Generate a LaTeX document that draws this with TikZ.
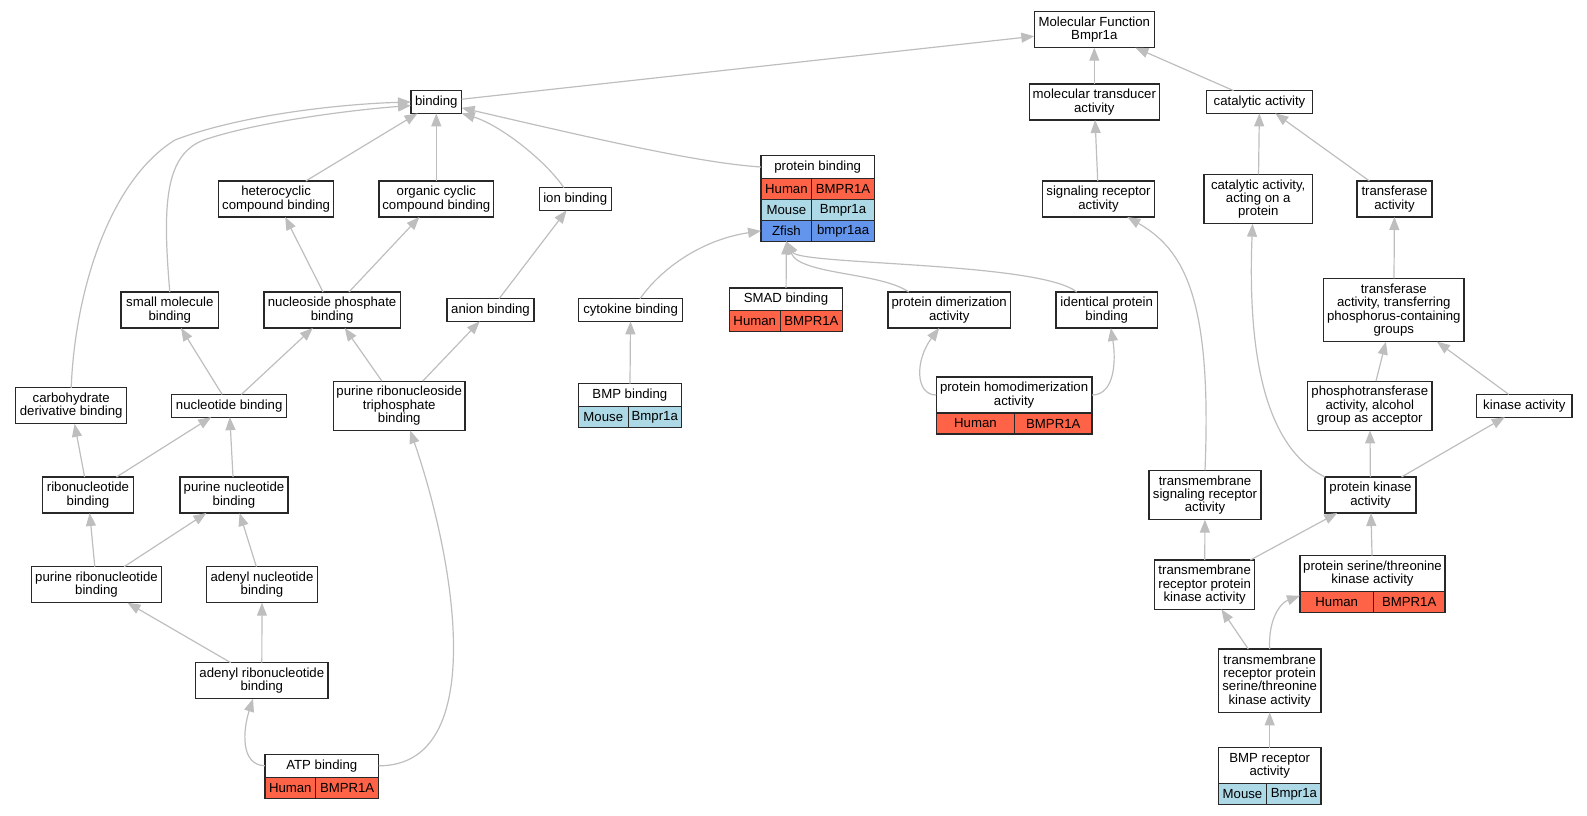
\documentclass[tikz,border=0pt]{standalone}
\usepackage{fontspec}
\newfontfamily\golabel{Liberation Sans}
\usetikzlibrary{arrows.meta,positioning}
\definecolor{humanred}{RGB}{255,99,71}
\definecolor{mouseblue}{RGB}{173,216,230}
\definecolor{fishblue}{RGB}{100,149,237}
\definecolor{isagray}{RGB}{190,190,190}
\definecolor{boxline}{RGB}{40,40,40}

\begin{document}
\begin{tikzpicture}[x=1pt,y=-1pt,
  isa/.style={draw=isagray,line width=1.2pt,-{Triangle[length=13pt,width=10pt]}},
  go node/.style={draw=boxline,line width=1.3pt,fill=white,align=center,inner sep=2pt,outer sep=0pt,
    minimum height=22.7pt,font=\golabel\fontsize{13.2}{13.3}\selectfont},
  two lines/.style={minimum height=36pt},
  three lines/.style={minimum height=49.3pt},
  four lines/.style={minimum height=63.3pt},
  gene cell/.style={go node,minimum height=21pt,inner sep=1pt},
  human/.style={gene cell,fill=humanred},
  mouse/.style={gene cell,fill=mouseblue},
  zfish/.style={gene cell,fill=fishblue}]
  \useasboundingbox (0,0) rectangle (1587,816);

  % top ranks
  \node[go node,two lines,minimum width=120pt] (mf) at (1094.3,29.7) {Molecular Function\\Bmpr1a};
  \node[go node,minimum width=50.7pt] (bind) at (436.3,102) {binding};
  \node[go node,two lines,minimum width=130pt] (transd) at (1094.3,102) {molecular transducer\\activity};
  \node[go node,minimum width=105.7pt] (cat) at (1259.5,102) {catalytic activity};

  \node[go node,minimum width=113.3pt] (pb) at (817.7,167) {protein binding};
  \node[human,minimum width=50.7pt,below right=0pt of pb.south west] (pbH) {Human};
  \node[human,minimum width=62.6pt,right=0pt of pbH] (pbHg) {BMPR1A};
  \node[mouse,minimum width=50.7pt,below=0pt of pbH] (pbM) {Mouse};
  \node[mouse,minimum width=62.6pt,right=0pt of pbM] (pbMg) {Bmpr1a};
  \node[zfish,minimum width=50.7pt,below=0pt of pbM] (pbZ) {Zfish};
  \node[zfish,minimum width=62.6pt,right=0pt of pbZ] (pbZg) {bmpr1aa};

  \node[go node,two lines,minimum width=115.2pt] (hetero) at (276.1,199) {heterocyclic\\compound binding};
  \node[go node,two lines,minimum width=114.8pt] (orgcyc) at (436.3,199) {organic cyclic\\compound binding};
  \node[go node,minimum width=72pt] (ion) at (575.2,199) {ion binding};
  \node[go node,two lines,minimum width=111.7pt] (sigrec) at (1098.5,199) {signaling receptor\\activity};
  \node[go node,three lines,minimum width=108.3pt] (catprot) at (1258.2,199) {catalytic activity,\\acting on a\\protein};
  \node[go node,two lines,minimum width=75pt] (transf) at (1394.5,199) {transferase\\activity};

  \node[go node,two lines,minimum width=97.4pt] (small) at (169.8,310) {small molecule\\binding};
  \node[go node,two lines,minimum width=136.2pt] (np) at (332.1,310) {nucleoside phosphate\\binding};
  \node[go node,minimum width=87pt] (anion) at (490.5,310) {anion binding};
  \node[go node,minimum width=104.4pt] (cyt) at (630.6,310) {cytokine binding};
  \node[go node,minimum width=113.3pt] (smad) at (786,299.2) {SMAD binding};
  \node[human,minimum width=50.8pt,below right=0pt of smad.south west] (smadH) {Human};
  \node[human,minimum width=62.5pt,right=0pt of smadH] (smadHg) {BMPR1A};
  \node[go node,two lines,minimum width=122.4pt] (pd) at (949.2,310) {protein dimerization\\activity};
  \node[go node,two lines,minimum width=101.4pt] (ip) at (1106.7,310) {identical protein\\binding};
  \node[go node,four lines,minimum width=140.3pt] (phos) at (1393.8,310) {transferase\\activity, transferring\\phosphorus-containing\\groups};

  \node[go node,two lines,minimum width=111pt] (carb) at (71.2,405.8) {carbohydrate\\derivative binding};
  \node[go node,minimum width=115pt] (nucl) at (229.2,405.8) {nucleotide binding};
  \node[go node,three lines,minimum width=131.7pt] (prt) at (399.2,405.8) {purine ribonucleoside\\triphosphate\\binding};
  \node[go node,minimum width=102.9pt] (bmpb) at (629.9,395) {BMP binding};
  \node[mouse,minimum width=49.7pt,below right=0pt of bmpb.south west] (bmpbM) {Mouse};
  \node[mouse,minimum width=53.2pt,right=0pt of bmpbM] (bmpbMg) {Bmpr1a};
  \node[go node,two lines,minimum width=155.8pt] (phd) at (1014.1,395) {protein homodimerization\\activity};
  \node[human,minimum width=78.4pt,below right=0pt of phd.south west] (phdH) {Human};
  \node[human,minimum width=77.4pt,right=0pt of phdH] (phdHg) {BMPR1A};
  \node[go node,three lines,minimum width=124.3pt] (alc) at (1369.8,405.8) {phosphotransferase\\activity, alcohol\\group as acceptor};
  \node[go node,minimum width=95.3pt] (kin) at (1524.3,405.8) {kinase activity};

  \node[go node,two lines,minimum width=90.7pt] (ribo) at (88,495) {ribonucleotide\\binding};
  \node[go node,two lines,minimum width=108pt] (pnucl) at (234,495) {purine nucleotide\\binding};
  \node[go node,three lines,minimum width=112pt] (tmsig) at (1205,495) {transmembrane\\signaling receptor\\activity};
  \node[go node,two lines,minimum width=91pt] (pk) at (1370.5,495) {protein kinase\\activity};

  \node[go node,two lines,minimum width=129.7pt] (pribo) at (96.5,584.7) {purine ribonucleotide\\binding};
  \node[go node,two lines,minimum width=110.7pt] (anucl) at (262,584.7) {adenyl nucleotide\\binding};
  \node[go node,three lines,minimum width=100pt] (tmrpk) at (1204.7,584.7) {transmembrane\\receptor protein\\kinase activity};
  \node[go node,two lines,minimum width=145pt] (pstk) at (1372.5,573.7) {protein serine/threonine\\kinase activity};
  \node[human,minimum width=73.3pt,below right=0pt of pstk.south west] (pstkH) {Human};
  \node[human,minimum width=71.7pt,right=0pt of pstkH] (pstkHg) {BMPR1A};

  \node[go node,two lines,minimum width=132.3pt] (aribo) at (261.8,680.7) {adenyl ribonucleotide\\binding};
  \node[go node,four lines,minimum width=102.7pt] (tmrpstk) at (1269.7,680.7) {transmembrane\\receptor protein\\serine/threonine\\kinase activity};

  \node[go node,minimum width=113.7pt] (atp) at (321.8,765.8) {ATP binding};
  \node[human,minimum width=50.7pt,below right=0pt of atp.south west] (atpH) {Human};
  \node[human,minimum width=63pt,right=0pt of atpH] (atpHg) {BMPR1A};
  \node[go node,two lines,minimum width=102.7pt] (bmpr) at (1269.7,765.8) {BMP receptor\\activity};
  \node[mouse,minimum width=48.3pt,below right=0pt of bmpr.south west] (bmprM) {Mouse};
  \node[mouse,minimum width=54.4pt,right=0pt of bmprM] (bmprMg) {Bmpr1a};

  % is_a links
  \path[every edge/.style={isa}] (bind) edge (mf)
    (transd) edge (mf)
    (cat) edge (mf)
    (sigrec) edge (transd)
    (catprot) edge (cat)
    (transf) edge (cat)
    (phos) edge (transf)
    (alc) edge (phos)
    (kin) edge (phos)
    (pk) edge (alc) edge (kin)
    (tmrpk) edge (tmsig) edge (pk)
    (tmrpstk) edge (tmrpk)
    (pstk) edge (pk)
    (bmpr) edge (tmrpstk)
    (hetero) edge (bind)
    (orgcyc) edge (bind)
    (np) edge (hetero) edge (orgcyc)
    (anion) edge (ion)
    (nucl) edge (small) edge (np)
    (prt) edge (np) edge (anion)
    (ribo) edge (carb) edge (nucl)
    (pnucl) edge (nucl)
    (pribo) edge (ribo) edge (pnucl)
    (anucl) edge (pnucl)
    (aribo) edge (pribo) edge (anucl)
    (bmpb) edge (cyt)
    (smad) edge (pbZ.south);

  \draw[isa] (ion.135) .. controls (545,160) and (500,125) .. (bind.south east);
  \draw[isa] (pb.west) .. controls (700,163) and (600,140) .. (bind.-13);
  \draw[isa] (small.north) .. controls (162,200) and (165,150) .. (210,138)
    .. controls (260,122) and (350,110) .. (bind.-172);
  \draw[isa] (carb.north) .. controls (75,290) and (110,180) .. (175,140)
    .. controls (240,115) and (340,104) .. (bind.west);
  \draw[isa] (cyt.50) .. controls (660,270) and (700,240) .. (pbZ.west);
  \draw[isa] (pd.156) .. controls (880,272) and (800,275) .. (pbZ.south);
  \draw[isa] (ip.149) .. controls (1040,262) and (800,265) .. (pbZ.south);
  \draw[isa] (phd.west) .. controls (915,395) and (915,360) .. (pd.-119);
  \draw[isa] (phd.east) .. controls (1115,395) and (1116,360) .. (ip.-77);
  \draw[isa] (atp.west) .. controls (240,765) and (243,730) .. (aribo.-116);
  \draw[isa] (atp.east) .. controls (490,766) and (455,560) .. (prt.-66);
  \draw[isa] (pk.north west) .. controls (1260,445) and (1248,340) .. (catprot.-103);
  \draw[isa] (tmsig.north) .. controls (1212,300) and (1185,250) .. (sigrec.-32);
  \draw[isa] (tmrpstk.north) .. controls (1268,620) and (1280,603) .. (pstkH.170);

\end{tikzpicture}
\end{document}
